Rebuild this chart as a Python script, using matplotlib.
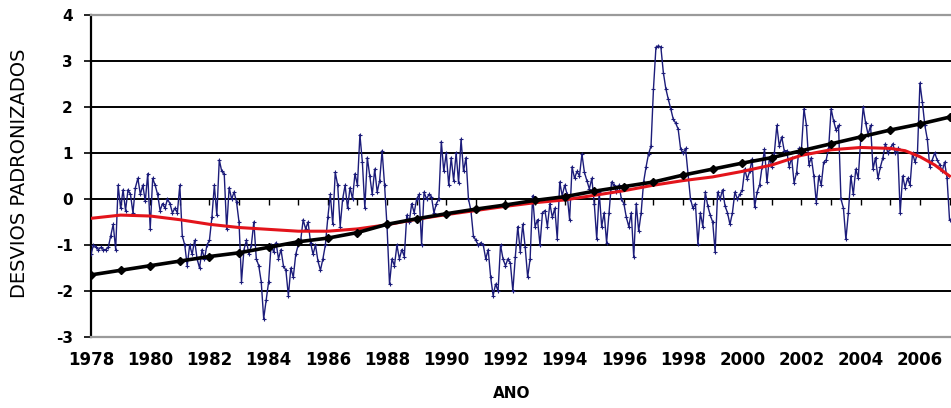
import matplotlib.pyplot as plt
import numpy as np

# Data
start_year = 1978
# monthly standardized deviations, Jan 1978 .. Jan 2007
desvios = [
    -1.2, -1.0, -1.05, -1.1, -1.05, -1.1, -1.1, -1.05, -0.8, -0.55, -1.1, 0.3,     # 1978
    -0.2, 0.2, -0.25, 0.2, 0.1, -0.3, 0.25, 0.45, 0.1, 0.3, -0.05, 0.55,          # 1979
    -0.65, 0.45, 0.3, 0.1, -0.25, -0.1, -0.2, 0.0, -0.1, -0.3, -0.2, -0.3,         # 1980
    0.3, -0.8, -1.0, -1.45, -1.0, -1.2, -0.9, -1.3, -1.5, -1.1, -1.3, -1.0,        # 1981
    -0.9, -0.4, 0.3, -0.35, 0.85, 0.6, 0.55, -0.65, 0.25, 0.0, 0.15, -0.07,        # 1982
    -0.5, -1.8, -1.1, -0.9, -1.2, -1.0, -0.5, -1.3, -1.45, -1.8, -2.6, -2.2,       # 1983
    -1.8, -1.0, -1.15, -0.95, -1.3, -1.1, -1.45, -1.55, -2.1, -1.5, -1.7, -1.2,    # 1984
    -1.0, -0.9, -0.45, -0.65, -0.5, -0.95, -1.2, -1.0, -1.35, -1.55, -1.3, -1.0,   # 1985
    -0.4, 0.1, -0.55, 0.58, 0.3, -0.6, 0.0, 0.3, -0.2, 0.25, 0.0, 0.55,           # 1986
    0.3, 1.4, 0.8, -0.2, 0.9, 0.5, 0.1, 0.65, 0.15, 0.4, 1.05, 0.3,                # 1987
    -0.6, -1.85, -1.3, -1.45, -1.0, -1.3, -1.1, -1.25, -0.35, -0.5, -0.1, -0.3,    # 1988
    0.0, 0.1, -1.0, 0.15, 0.0, 0.1, 0.05, -0.3, -0.1, 0.0, 1.25, 0.6,              # 1989
    1.0, 0.3, 0.9, 0.4, 1.0, 0.35, 1.3, 0.6, 0.9, 0.0, -0.25, -0.8,               # 1990
    -0.9, -1.0, -0.95, -1.0, -1.3, -1.1, -1.7, -2.1, -1.85, -2.0, -1.0, -1.3,      # 1991
    -1.45, -1.3, -1.4, -2.0, -1.25, -0.6, -1.15, -0.55, -1.05, -1.7, -1.3, 0.07,   # 1992
    -0.6, -0.45, -1.0, -0.3, -0.25, -0.6, -0.1, -0.4, -0.2, -0.87, 0.37, 0.07,     # 1993
    0.3, 0.1, -0.45, 0.7, 0.45, 0.6, 0.5, 0.98, 0.58, 0.4, 0.22, 0.45,             # 1994
    -0.1, -0.87, 0.15, -0.6, -0.3, -0.95, -0.3, 0.37, 0.3, 0.15, 0.3, 0.0,         # 1995
    -0.1, -0.4, -0.6, -0.3, -1.27, -0.1, -0.7, -0.3, 0.37, 0.7, 0.98, 1.15,        # 1996
    2.4, 3.3, 3.33, 3.3, 2.75, 2.4, 2.17, 1.96, 1.74, 1.65, 1.52, 1.09,            # 1997
    1.0, 1.1, 0.55, 0.0, -0.2, -0.1, -0.98, -0.3, -0.6, 0.15, -0.15, -0.35,        # 1998
    -0.5, -1.15, 0.15, 0.0, 0.2, -0.15, -0.3, -0.55, -0.3, 0.15, 0.0, 0.1,         # 1999
    0.2, 0.65, 0.43, 0.6, 0.87, -0.18, 0.15, 0.3, 0.7, 1.08, 0.36, 0.9,            # 2000
    0.7, 1.0, 1.6, 1.15, 1.35, 1.05, 1.05, 0.7, 0.9, 0.35, 0.57, 1.1,              # 2001
    1.1, 1.96, 1.6, 0.75, 0.9, 0.5, -0.08, 0.5, 0.3, 0.8, 0.85, 1.1,               # 2002
    1.96, 1.7, 1.5, 1.6, 0.0, -0.2, -0.88, -0.3, 0.5, 0.1, 0.65, 0.45,             # 2003
    1.3, 2.0, 1.65, 1.4, 1.6, 0.65, 0.9, 0.45, 0.7, 0.9, 1.2, 1.0,                 # 2004
    1.1, 1.2, 1.0, 1.1, -0.3, 0.5, 0.25, 0.45, 0.3, 1.0, 0.8, 1.0,                 # 2005
    2.52, 2.1, 1.6, 1.3, 0.7, 0.85, 1.0, 0.85, 0.75, 0.6, 0.8, 0.45,               # 2006
    -0.45,                                                                          # 2007
]

# linear trend (annual points with diamond markers)
trend_years = list(range(1978, 2008))
trend_vals = [-1.65, -1.55, -1.45, -1.35, -1.25, -1.17, -1.05, -0.93, -0.85, -0.73,
              -0.55, -0.43, -0.32, -0.22, -0.13, -0.03, 0.05, 0.17, 0.27, 0.37,
              0.52, 0.65, 0.78, 0.9, 1.05, 1.2, 1.35, 1.5, 1.63, 1.78]

# smoothed curve (red)
smooth_years = [1978, 1979, 1980, 1981, 1982, 1983, 1984, 1985, 1986, 1987, 1988,
                1989, 1990, 1991, 1992, 1993, 1994, 1995, 1996, 1997, 1998, 1999,
                2000, 2001, 2002, 2003, 2004, 2005, 2005.5, 2006, 2006.5, 2007]
smooth_vals = [-0.42, -0.35, -0.37, -0.45, -0.55, -0.62, -0.66, -0.7, -0.7, -0.65, -0.56,
               -0.44, -0.34, -0.25, -0.16, -0.08, -0.02, 0.08, 0.18, 0.3, 0.4, 0.48,
               0.6, 0.74, 0.95, 1.07, 1.12, 1.1, 1.05, 0.92, 0.74, 0.5]

year_labels = list(range(1978, 2007, 2))

# Plot
fig = plt.figure(figsize=(9.51, 4.08), dpi=100)
ax = fig.add_axes([91 / 951, 1 - 337 / 408, 1 - 91 / 951, 322 / 408])

x = start_year + np.arange(len(desvios)) / 12
ax.plot(x, desvios, color='#1c1c7a', lw=1.0, marker='+', ms=3.5, mew=0.8, zorder=3)
ax.plot(smooth_years, smooth_vals, color='#e3141b', lw=2.2, zorder=4)
ax.plot(trend_years, trend_vals, color='black', lw=2.6, marker='D', ms=4.5, zorder=5)

ax.set_xlim(1978, 2007.05)
ax.set_ylim(-3, 4)
ax.set_yticks(range(-3, 5))
ax.set_yticklabels([str(v) for v in range(-3, 5)], fontsize=11, fontweight='bold')
ax.set_xticks(year_labels)
ax.set_xticklabels([str(y) for y in year_labels], fontsize=12, fontweight='bold')
ax.tick_params(axis='x', length=0, pad=10)
ax.tick_params(axis='y', direction='out', length=5, width=1.2, pad=8)

for v in range(-2, 4):
    ax.axhline(v, color='black', lw=1.4, zorder=1)
ax.spines['right'].set_visible(False)
ax.spines['top'].set_color('#9a9a9a')
ax.spines['bottom'].set_color('#9a9a9a')
ax.spines['top'].set_linewidth(1.6)
ax.spines['bottom'].set_linewidth(1.6)
ax.spines['left'].set_linewidth(1.6)

# category tick marks sitting on the zero line
zero_ax = ax.secondary_xaxis(3 / 7)
zero_ax.set_xticks(range(1979, 2008))
zero_ax.tick_params(direction='out', length=4, width=1.0, labelbottom=False,
                    labeltop=False, bottom=True, top=False)
zero_ax.spines['bottom'].set_visible(False)
zero_ax.spines['top'].set_visible(False)

fig.text(20 / 951, 1 - 173 / 408, 'DESVIOS PADRONIZADOS', rotation=90,
         ha='center', va='center', fontsize=14)
fig.text(512 / 951, 1 - 393 / 408, 'ANO', ha='center', va='center',
         fontsize=11, fontweight='bold')

plt.savefig('out.png', dpi=100)
plt.close()
